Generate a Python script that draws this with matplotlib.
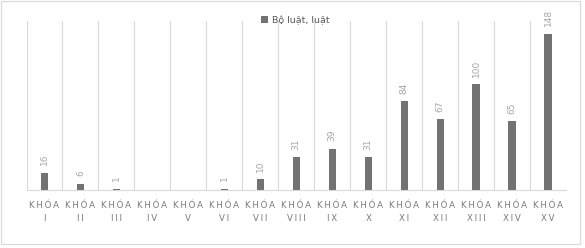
import matplotlib.pyplot as plt
from matplotlib.patches import Rectangle

# Data
terms = ["I", "II", "III", "IV", "V", "VI", "VII", "VIII", "IX", "X",
         "XI", "XII", "XIII", "XIV", "XV"]
laws = [16, 6, 1, 0, 0, 1, 10, 31, 39, 31, 84, 67, 100, 65, 148]
series_name = "Bộ luật, luật"

gap = "\u2009"
def spaced(s):
    return gap.join(list(s))

labels = [spaced("KHÓA") + "\n" + spaced(t) for t in terms]

fig = plt.figure(figsize=(5.85, 2.48), dpi=100)
ax = fig.add_axes([0.0453, 0.234, 0.9222, 0.681])

x = list(range(len(terms)))
bars = ax.bar(x, laws, width=0.2, color="#727272", label=series_name, zorder=3)

# data labels (rotated), skip empty terms
for xi, v in zip(x, laws):
    if v == 0:
        continue
    ax.annotate(str(v), (xi, v), xytext=(0, 5.5), textcoords="offset points",
                rotation=90, ha="center", va="bottom",
                fontsize=6.5, color="#a6a6a6")

ax.set_xlim(-0.5, len(terms) - 0.5)
ax.set_ylim(0, 160)

# vertical gridlines at category boundaries
for b in range(len(terms) + 1):
    ax.axvline(b - 0.5, color="#d9d9d9", lw=0.8, zorder=1)

for side in ["top", "right", "left"]:
    ax.spines[side].set_visible(False)
ax.spines["bottom"].set_color("#d9d9d9")
ax.spines["bottom"].set_linewidth(0.8)

ax.set_yticks([])
ax.set_xticks(x)
ax.set_xticklabels(labels, fontsize=6.2, color="#7a7a7a", linespacing=1.6)
ax.tick_params(axis="x", length=0, pad=8)

leg = fig.legend(handles=[bars], labels=[series_name], loc="center",
                 bbox_to_anchor=(0.505, 0.918), frameon=False, fontsize=6.8,
                 handlelength=0.7, handleheight=0.7, handletextpad=0.4)
for t in leg.get_texts():
    t.set_color("#595959")

# outer chart border
fig.patches.append(Rectangle((0.002, 0.016), 0.99, 0.978, transform=fig.transFigure,
                             fill=False, edgecolor="#d9d9d9", lw=0.8))

fig.savefig("out.png", dpi=100)
